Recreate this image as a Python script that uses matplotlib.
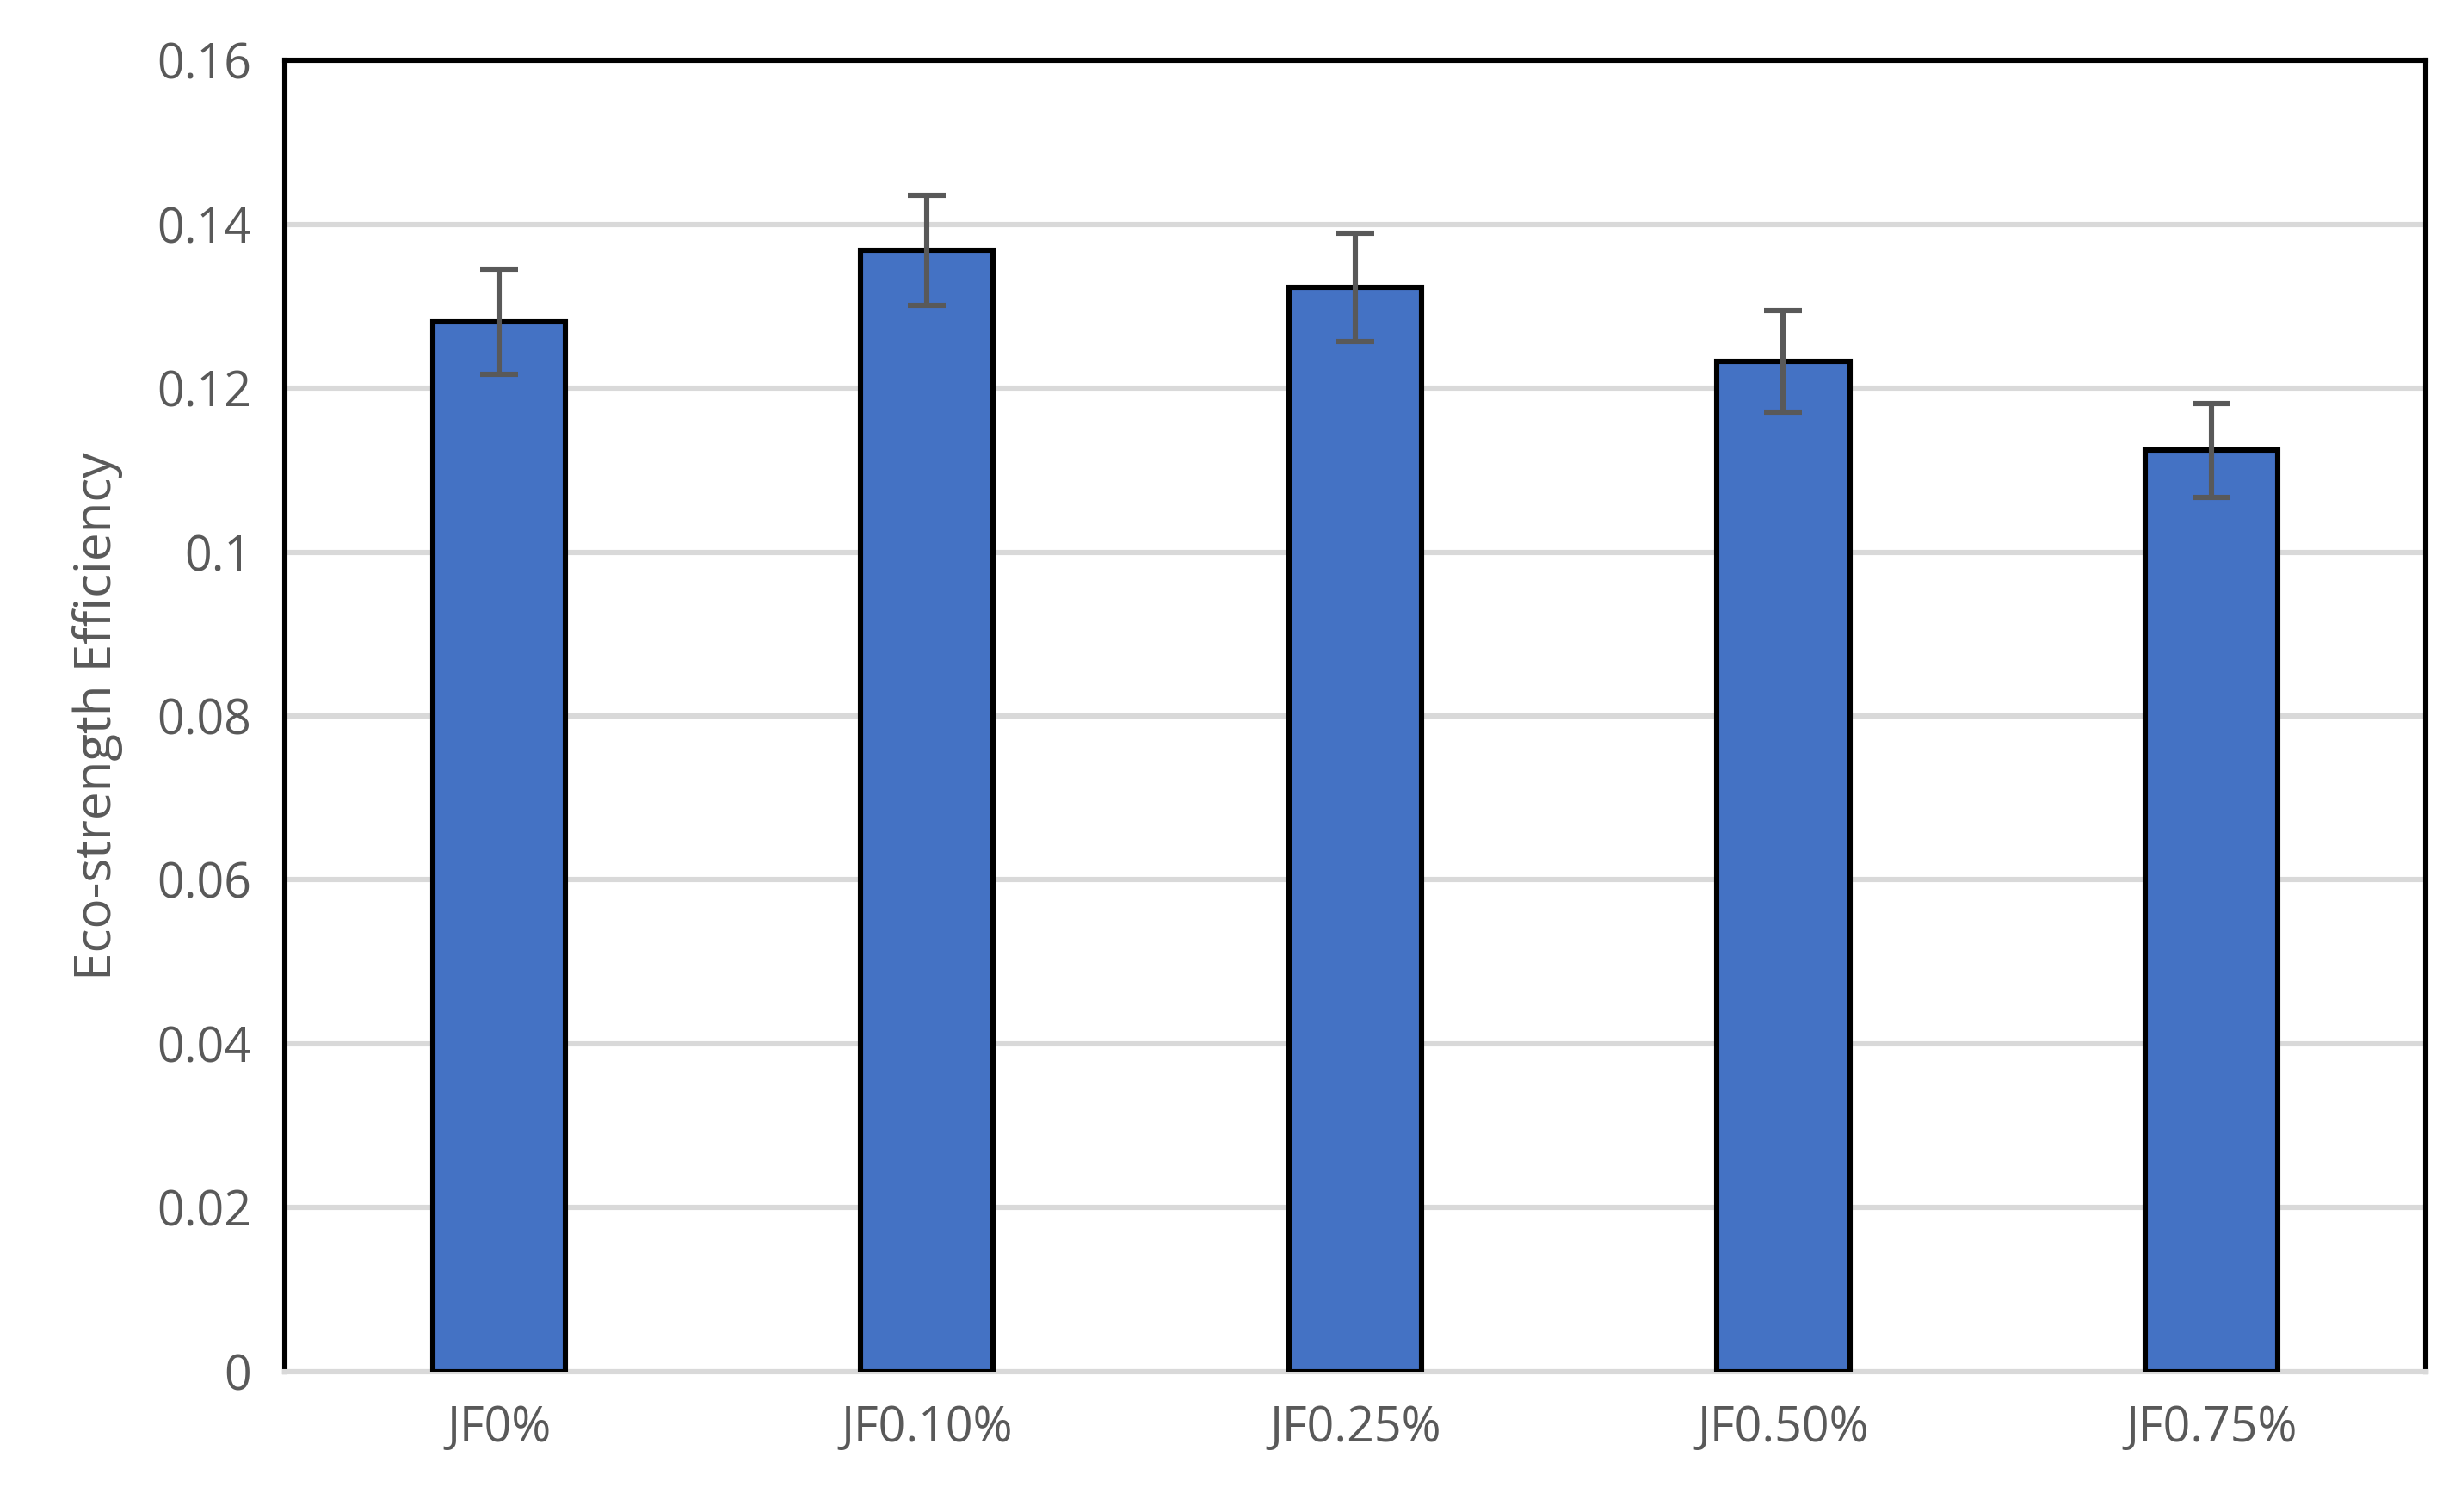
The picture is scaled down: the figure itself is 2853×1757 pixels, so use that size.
import matplotlib
matplotlib.use("Agg")
import matplotlib.pyplot as plt

categories = ["JF0%", "JF0.10%", "JF0.25%", "JF0.50%", "JF0.75%"]
values = [0.1281, 0.1368, 0.1323, 0.1233, 0.1124]
errors = [0.0064, 0.0067, 0.0066, 0.0062, 0.0057]

plt.rcParams['font.family'] = ['Open Sans', 'DejaVu Sans']
fig = plt.figure(figsize=(14.265, 8.785), dpi=200)
ax = fig.add_axes([0.116, 0.093, 0.872, 0.867])
gray = "#595959"
x = range(len(categories))
ax.bar(x, values, width=0.31, color="#4472C4", edgecolor="black", linewidth=2.2, zorder=3)
ax.errorbar(x, values, yerr=errors, fmt="none", ecolor=gray, elinewidth=2.2, capsize=8, capthick=2.2, zorder=4)
ax.set_xlim(-0.5, 4.5)
ax.set_ylim(0, 0.16)
ax.set_yticks([0, 0.02, 0.04, 0.06, 0.08, 0.1, 0.12, 0.14, 0.16])
ax.set_yticklabels(["0", "0.02", "0.04", "0.06", "0.08", "0.1", "0.12", "0.14", "0.16"])
ax.set_xticks(list(x))
ax.set_xticklabels(categories)
ax.tick_params(axis="both", length=0, labelsize=20, labelcolor=gray, pad=14)
ax.yaxis.grid(True, color="#D9D9D9", linewidth=2.2, zorder=0)
ax.set_ylabel("Eco-strength Efficiency", fontsize=21, color=gray, labelpad=14)
for s in ["left", "top", "right"]:
    ax.spines[s].set_color("black")
    ax.spines[s].set_linewidth(2.2)
ax.spines["bottom"].set_color("#D9D9D9")
ax.spines["bottom"].set_linewidth(2.2)
fig.savefig("out.png", dpi=200)
